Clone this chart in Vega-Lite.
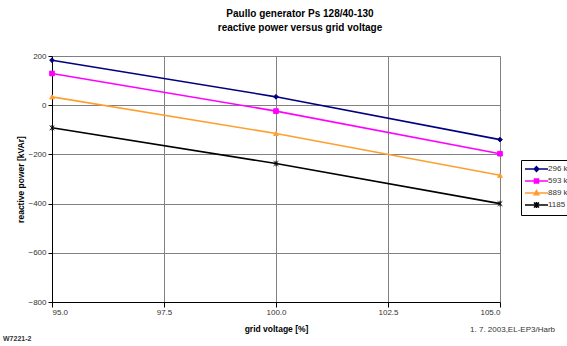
{
  "$schema": "https://vega.github.io/schema/vega-lite/v6.json",
  "width": 448,
  "height": 246,
  "autosize": {"type": "none"},
  "padding": {"left": 52, "top": 56, "right": 67, "bottom": 44},
  "background": "white",
  "title": {
    "text": ["Paullo generator  Ps 128/40-130", "reactive power  versus grid voltage"],
    "font": "Liberation Sans",
    "fontSize": 10,
    "fontWeight": "bold",
    "color": "#000000",
    "anchor": "middle",
    "dx": 24,
    "offset": 19,
    "lineHeight": 14
  },
  "datasets": {
    "series": [
      {"voltage": 95, "power": 183, "load": "296 kW", "marker": "diamond"},
      {"voltage": 100, "power": 34, "load": "296 kW", "marker": "diamond"},
      {"voltage": 105, "power": -140, "load": "296 kW", "marker": "diamond"},
      {"voltage": 95, "power": 129, "load": "593 kW", "marker": "square"},
      {"voltage": 100, "power": -24, "load": "593 kW", "marker": "square"},
      {"voltage": 105, "power": -197, "load": "593 kW", "marker": "square"},
      {"voltage": 95, "power": 34, "load": "889 kW", "marker": "triangle"},
      {"voltage": 100, "power": -115, "load": "889 kW", "marker": "triangle"},
      {"voltage": 105, "power": -285, "load": "889 kW", "marker": "triangle"},
      {"voltage": 95, "power": -92, "load": "1185 kW", "marker": "star"},
      {"voltage": 100, "power": -237, "load": "1185 kW", "marker": "star"},
      {"voltage": 105, "power": -400, "load": "1185 kW", "marker": "star"}
    ],
    "notes": [
      {"note": "1. 7. 2003,EL-EP3/Harb"}
    ],
    "code": [
      {"note": "W7221-2"}
    ]
  },
  "config": {
    "view": {"stroke": null},
    "font": "Liberation Sans",
    "axis": {
      "labelFont": "Liberation Sans",
      "labelFontSize": 8,
      "labelColor": "#333333",
      "titleFont": "Liberation Sans",
      "titleFontSize": 8.5,
      "titleFontWeight": "bold",
      "titleColor": "#000000",
      "domainColor": "#000000",
      "tickColor": "#000000",
      "gridColor": "#808080",
      "gridOpacity": 1,
      "gridWidth": 1
    }
  },
  "layer": [
    {
      "data": {"name": "series"},
      "mark": {"type": "line", "strokeWidth": 1.6},
      "encoding": {
        "x": {
          "field": "voltage", "type": "quantitative",
          "scale": {"domain": [95, 105], "nice": false, "zero": false},
          "axis": {"values": [95, 97.5, 100, 102.5, 105], "format": ".1f", "title": "grid voltage [%]", "tickSize": 5, "labelPadding": 1, "titleY": 22}
        },
        "y": {
          "field": "power", "type": "quantitative",
          "scale": {"domain": [-800, 200], "nice": false},
          "axis": {"values": [-800, -600, -400, -200, 0, 200], "format": "d", "title": "reactive power [kVAr]", "tickSize": 4, "labelPadding": 2, "titleX": -27}
        },
        "color": {
          "field": "load", "type": "nominal",
          "scale": {"domain": ["296 kW", "593 kW", "889 kW", "1185 kW"], "range": ["#000080", "#FF00FF", "#FF9F30", "#000000"]},
          "legend": {
            "title": null,
            "orient": "none",
            "legendX": 469,
            "legendY": 104,
            "strokeColor": "#000000",
            "fillColor": "#FFFFFF",
            "padding": 3,
            "rowPadding": 0,
            "symbolSize": 100,
            "symbolType": "M-1,0H3.6",
            "symbolStrokeWidth": 1.6,
            "labelFont": "Liberation Sans",
            "labelFontSize": 8,
            "labelColor": "#333333",
            "labelOffset": 12,
            "encode": {
              "symbols": {
                "update": {
                  "shape": {"signal": "datum.value === '296 kW' ? 'M-1,0H3.6M1.3,-0.45L1.75,0L1.3,0.45L0.85,0Z' : datum.value === '593 kW' ? 'M-1,0H3.6M0.9,-0.4H1.7V0.4H0.9Z' : datum.value === '889 kW' ? 'M-1,0H3.6M1.3,-0.45L1.75,0.35H0.85Z' : 'M-1,0H3.6M0.8,-0.5L1.8,0.5M0.8,0.5L1.8,-0.5M1.3,-0.6V0.6'"},
                  "fill": {"signal": "datum.value === '1185 kW' ? 'transparent' : scale('color', datum.value)"}
                }
              }
            }
          }
        },
        "detail": {"field": "load"}
      }
    },
    {
      "data": {"name": "series"},
      "mark": {"type": "point", "filled": true, "opacity": 1, "size": 22, "strokeWidth": 1},
      "encoding": {
        "x": {"field": "voltage", "type": "quantitative"},
        "y": {"field": "power", "type": "quantitative"},
        "fill": {
          "field": "marker", "type": "nominal",
          "scale": {"domain": ["diamond", "square", "triangle", "star"], "range": ["#000080", "#FF00FF", "#FF9F30", "#000000"]},
          "legend": null
        },
        "stroke": {
          "field": "marker", "type": "nominal",
          "scale": {"domain": ["diamond", "square", "triangle", "star"], "range": ["#000080", "#FF00FF", "#FF9F30", "#000000"]},
          "legend": null
        },
        "shape": {
          "field": "marker", "type": "nominal",
          "scale": {"domain": ["diamond", "square", "triangle", "star"], "range": ["diamond", "square", "triangle-up", "M-1,-1L1,1M-1,1L1,-1M0,-1.2V1.2"]},
          "legend": null
        }
      }
    },
    {
      "data": {"name": "notes"},
      "mark": {"type": "text", "align": "right", "baseline": "middle", "dx": 55, "dy": 28, "fontSize": 8, "font": "Liberation Sans", "color": "#333333"},
      "encoding": {
        "x": {"datum": 105, "type": "quantitative"},
        "y": {"datum": -800, "type": "quantitative"},
        "text": {"field": "note"}
      }
    },
    {
      "data": {"name": "code"},
      "mark": {"type": "text", "align": "left", "baseline": "middle", "dx": -49, "dy": 37, "fontSize": 7, "fontWeight": "bold", "font": "Liberation Sans", "color": "#333333"},
      "encoding": {
        "x": {"datum": 95, "type": "quantitative"},
        "y": {"datum": -800, "type": "quantitative"},
        "text": {"field": "note"}
      }
    }
  ]
}
